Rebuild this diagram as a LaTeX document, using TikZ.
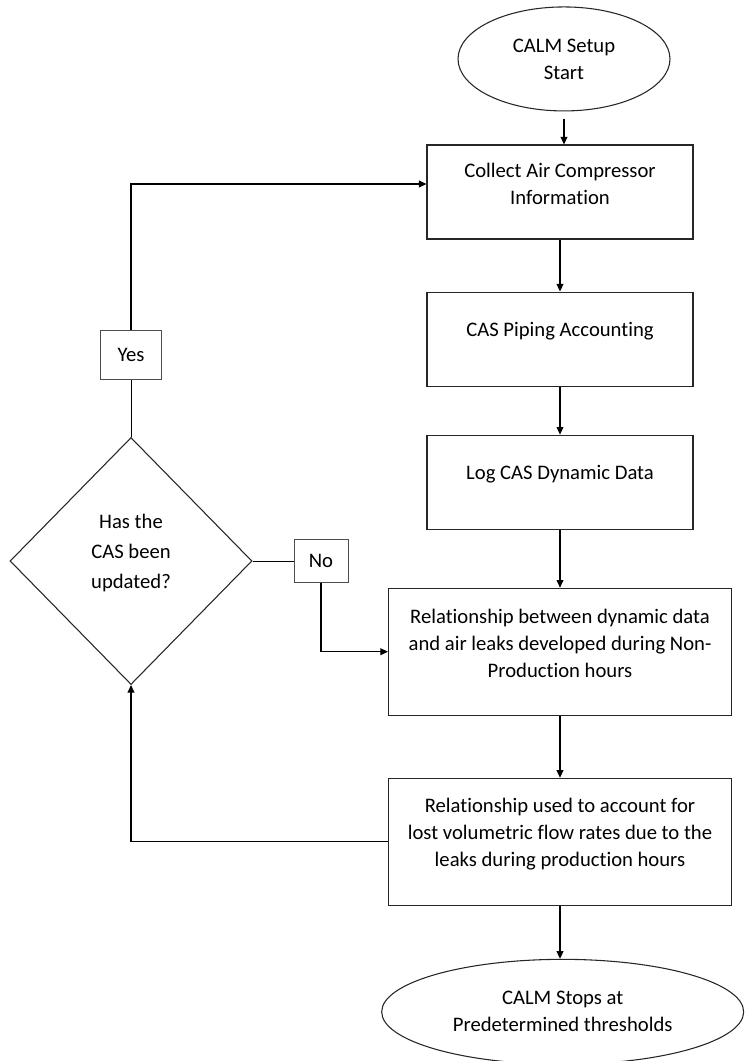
\documentclass[tikz,border=0pt]{standalone}
\usepackage{fontspec}
\setmainfont{Carlito}[Ligatures=NoCommon]
\usetikzlibrary{arrows.meta,positioning,shapes.geometric}

\begin{document}
\begin{tikzpicture}[
  font=\fontsize{15.5}{20.25}\selectfont,
  stepbox/.style={rectangle,draw=black!85,line width=0.8pt,fill=white,minimum width=199.5pt,minimum height=70.5pt},
  widebox/.style={stepbox,minimum width=257.25pt,minimum height=95.25pt},
  term/.style={ellipse,draw=black!85,line width=0.8pt,fill=white,align=center,inner sep=0pt},
  decision/.style={diamond,draw=black!85,line width=0.8pt,fill=white,minimum width=181.5pt,minimum height=185.25pt,inner sep=0pt},
  tag/.style={rectangle,draw=black!70,line width=0.7pt,fill=white,inner sep=0pt},
  boxtext/.style={align=center,yshift=6pt},
  arrow/.style={-{Triangle[length=2mm,width=1.8mm]},line width=0.8pt}
]
  \useasboundingbox (0,0) rectangle (559.5pt,-795.75pt);

  % main column
  \node[stepbox,label={[boxtext]center:Collect Air Compressor\\Information}] (collect) at (420pt,-144pt) {};
  \node[term,minimum width=159pt,minimum height=78pt,above=24.75pt of collect,xshift=3pt] (start) {CALM Setup\\Start};
  \node[stepbox,below=39pt of collect,label={[boxtext]center:CAS Piping Accounting}] (piping) {};
  \node[stepbox,below=36pt of piping,label={[boxtext]center:Log CAS Dynamic Data}] (logdata) {};
  \node[widebox,below=43.5pt of logdata,label={[boxtext]center:Relationship between dynamic data\\and air leaks developed during Non-\\Production hours}] (relation) {};
  \node[widebox,below=46.5pt of relation,label={[boxtext]center:Relationship used to account for\\lost volumetric flow rates due to the\\leaks during production hours}] (account) {};
  \node[term,minimum width=271.5pt,minimum height=78.75pt,below=39.75pt of account,xshift=2pt] (stop) {CALM Stops at\\Predetermined thresholds};

  % decision and its answers
  \node[decision,label={[boxtext,font=\fontsize{15.5}{22.5}\selectfont]center:Has the\\CAS been\\updated?}] (check) at (98.25pt,-420.75pt) {};
  \node[tag,minimum width=45.75pt,minimum height=36.75pt,above=42.75pt of check] (yes) {Yes};
  \node[tag,minimum width=40.5pt,minimum height=32.25pt,right=30.75pt of check] (no) {No};

  \draw[arrow,shorten <=6pt] (start.south) -- (start.south |- collect.north);
  \draw[arrow] (collect) -- (piping);
  \draw[arrow] (piping) -- (logdata);
  \draw[arrow] (logdata) -- (relation);
  \draw[arrow] (relation) -- (account);
  \draw[arrow] (account.south) -- (account.south |- stop.north);

  \draw (check.north) -- (yes.south);
  \draw[arrow] (yes.north) |- ([yshift=6pt]collect.west);
  \draw (check.east) -- (no.west);
  \draw[arrow] (no.south) |- (relation.west);
  \draw[arrow] (account.west) -| (check.south);
\end{tikzpicture}
\end{document}
